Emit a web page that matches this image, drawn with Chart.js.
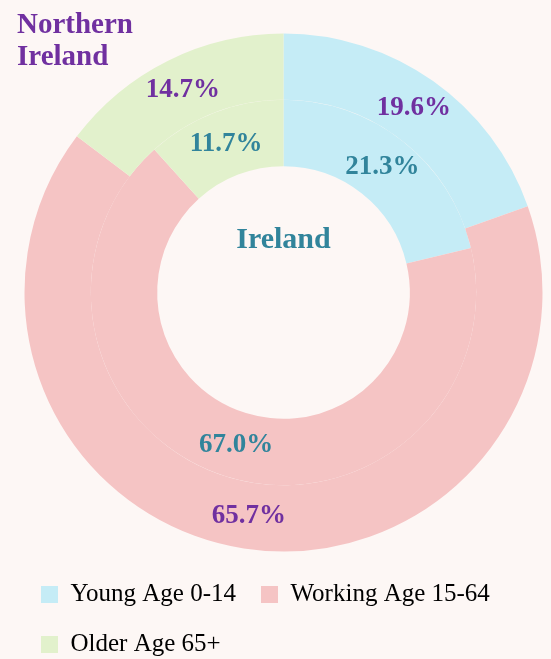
<!DOCTYPE html>
<html>
<head>
<meta charset="utf-8">
<script src="https://cdn.jsdelivr.net/npm/chart.js@4.4.0/dist/chart.umd.min.js"></script>
<style>
    html, body {
        margin: 0;
        padding: 0;
        background: #fdf7f5;
    }
    #wrap {
        position: relative;
        width: 551px;
        height: 659px;
    }
</style>
</head>
<body>
<div id="wrap"><canvas id="pieChart"></canvas></div>
<script>
const categories = ['Young Age 0-14', 'Working Age 15-64', 'Older Age 65+'];
const northernIreland = [19.6, 65.7, 14.7];
const ireland = [21.3, 67.0, 11.7];
const regionNames = ['Northern Ireland', 'Ireland'];

const sliceColors = ['#c5ecf6', '#f5c4c4', '#e2f1cc'];
const purple = '#7030a0';
const teal = '#31849b';
const serif = "'Liberation Serif', 'Times New Roman', serif";

// labels on each slice + the two region names
const labelPlugin = {
    id: 'sliceLabels',
    afterDatasetsDraw(chart) {
        const ctx = chart.ctx;
        const labelColors = [purple, teal];
        ctx.save();
        ctx.textAlign = 'center';
        ctx.textBaseline = 'middle';
        ctx.font = 'bold 27px ' + serif;
        chart.data.datasets.forEach(function (ds, di) {
            const meta = chart.getDatasetMeta(di);
            ctx.fillStyle = labelColors[di];
            meta.data.forEach(function (arc, i) {
                const p = arc.tooltipPosition();
                ctx.fillText(ds.data[i].toFixed(1) + '%', p.x, p.y);
            });
        });

        // outer ring name, top left
        const words = regionNames[0].split(' ');
        ctx.textAlign = 'left';
        ctx.textBaseline = 'alphabetic';
        ctx.font = 'bold 29px ' + serif;
        ctx.fillStyle = purple;
        ctx.fillText(words[0], 17, 33);
        ctx.fillText(words[1], 17, 65);

        // inner ring name, in the hole
        const arc0 = chart.getDatasetMeta(1).data[0];
        ctx.textAlign = 'center';
        ctx.font = 'bold 30px ' + serif;
        ctx.fillStyle = teal;
        ctx.fillText(regionNames[1], arc0.x, arc0.y - 45);
        ctx.restore();
    }
};

window.onload = function () {
    const ctx = document.getElementById('pieChart');

    new Chart(ctx, {
        type: 'doughnut',
        data: {
            labels: categories,
            datasets: [{
                label: regionNames[0],
                data: northernIreland,
                backgroundColor: sliceColors,
                borderWidth: 0
            }, {
                label: regionNames[1],
                data: ireland,
                backgroundColor: sliceColors,
                borderWidth: 0
            }]
        },
        options: {
            responsive: true,
            maintainAspectRatio: false,
            animation: false,
            events: [],
            radius: 259,
            cutout: 129,
            layout: {
                padding: {
                    left: 16,
                    right: -4,
                    top: 28,
                    bottom: -8
                }
            },
            plugins: {
                tooltip: {
                    enabled: false
                },
                legend: {
                    position: 'bottom',
                    align: 'start',
                    labels: {
                        boxWidth: 17,
                        boxHeight: 17,
                        padding: 25,
                        color: '#000000',
                        font: {
                            family: serif,
                            size: 25
                        }
                    }
                }
            }
        },
        plugins: [labelPlugin]
    });
}
</script>
</body>
</html>
